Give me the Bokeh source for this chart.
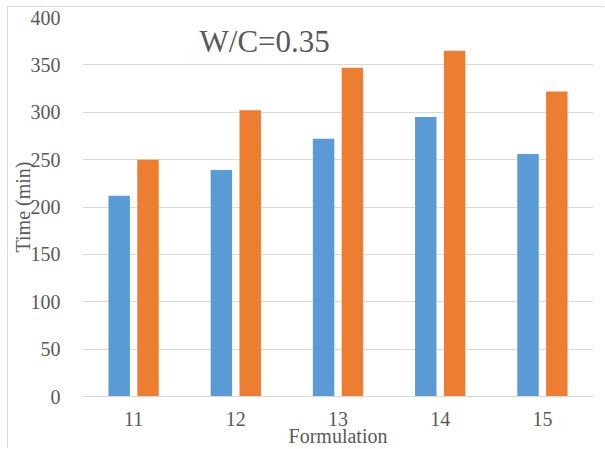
from bokeh.plotting import figure
from bokeh.models import ColumnDataSource, FactorRange, Range1d, Label, SingleIntervalTicker
from bokeh.transform import dodge
from bokeh.embed import file_html
from bokeh.resources import INLINE

categories = ["11", "12", "13", "14", "15"]
series_a = [212, 239, 272, 295, 256]
series_b = [250, 302, 347, 365, 322]
title_text = "W/C=0.35"

FONT = "Liberation Serif"
GRAY = "#595959"
GRID = "#d9d9d9"

src = ColumnDataSource(dict(cat=categories, a=series_a, b=series_b))

p = figure(width=597, height=442, x_range=FactorRange(*categories, range_padding=0),
           y_range=Range1d(0, 400), output_backend="svg", toolbar_location=None,
           min_border_left=74, min_border_right=12, min_border_top=10, min_border_bottom=53)
p.margin = (6, 0, 0, 7)
p.outline_line_color = None
p.background_fill_color = "white"
p.border_fill_color = "white"

p.vbar(x=dodge("cat", -0.141, range=p.x_range), top="a", width=0.21, source=src,
       fill_color="#5B9BD5", line_color=None)
p.vbar(x=dodge("cat", 0.141, range=p.x_range), top="b", width=0.21, source=src,
       fill_color="#ED7D31", line_color=None)

p.xgrid.grid_line_color = None
p.ygrid.grid_line_color = GRID
p.ygrid.grid_line_width = 1

p.yaxis.ticker = SingleIntervalTicker(interval=50)
p.yaxis.axis_line_color = None
p.yaxis.major_tick_line_color = None
p.yaxis.minor_tick_line_color = None
p.yaxis.major_label_standoff = 16
p.yaxis.axis_label = "Time (min)"
p.yaxis.axis_label_standoff = -6

p.xaxis.axis_line_color = GRID
p.xaxis.major_tick_line_color = None
p.xaxis.minor_tick_line_color = None
p.xaxis.major_label_standoff = 9
p.xaxis.axis_label = "Formulation"
p.xaxis.axis_label_standoff = -4

for ax in (p.xaxis, p.yaxis):
    ax.major_label_text_font = FONT
    ax.major_label_text_font_size = "20px"
    ax.major_label_text_color = GRAY
    ax.axis_label_text_font = FONT
    ax.axis_label_text_font_size = "20px"
    ax.axis_label_text_font_style = "normal"
    ax.axis_label_text_color = GRAY

p.add_layout(Label(x=1.145, y=375, text=title_text, text_font=FONT,
                   text_font_size="31px", text_color=GRAY, text_baseline="alphabetic"))

p.styles = {"border-left": "1px solid #d9d9d9", "border-top": "1px solid #d9d9d9"}

open("out.html", "w").write(file_html(p, INLINE))
